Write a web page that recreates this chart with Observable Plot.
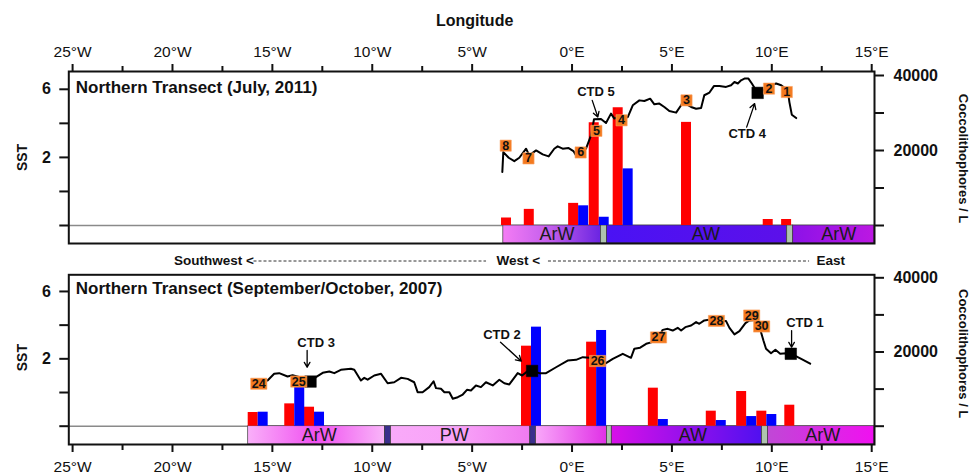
<!DOCTYPE html>
<html><head><meta charset="utf-8">
<script src="https://cdn.jsdelivr.net/npm/d3@7"></script>
<script src="https://cdn.jsdelivr.net/npm/@observablehq/plot@0.6"></script>
<style>
body{margin:0;background:#fff;}
#chart svg{display:block;}
</style></head>
<body><div id="chart"></div>
<script>
// ---------- shared axis values ----------
const lonTicks = [-25,-20,-15,-10,-5,0,5,10,15];
const lonMinorTicks = [-22.5,-17.5,-12.5,-7.5,-2.5,2.5,7.5,12.5];
const sstTicks = [-2,0,2,4,6];
const sstTickLabels = ["","","2","","6"];
const coccoTicks = [0,10000,20000,30000,40000];
const coccoTickLabels = ["","","20000","","40000"];
const directionLabels = ["Southwest <","West <","East"];

// ---------- July 2011 panel ----------
const julyTitle = "Northern Transect (July, 2011)";
const julyBarLon = [-3.03,-1.89,0.33,1.36,2.56,5.98,10.07,10.99];
const julyRed = [2000,4300,5900,27400,31400,27500,1600,1600];
const julyBlue = [null,null,5250,2200,15100,null,null,null];
const julySst = [[-3.49,1.14],[-3.44,2.31],[-3.17,1.98],[-2.89,1.78],[-2.64,1.98],[-2.30,2.51],[-2.14,2.12],[-1.80,2.41],[-1.47,2.18],[-1.17,2.06],[-0.89,2.51],[-0.72,2.65],[-0.47,2.51],[-0.17,2.55],[0.07,2.37],[0.20,2.12],[0.70,2.51],[0.95,3.29],[1.10,4.24],[1.45,4.26],[1.70,4.02],[1.95,4.57],[2.12,4.28],[2.29,4.37],[2.45,4.22],[2.79,4.37],[3.04,5.06],[3.37,5.35],[3.62,5.31],[3.91,5.45],[4.12,5.12],[4.37,5.16],[4.62,4.96],[4.87,4.72],[5.21,4.63],[5.46,5.06],[5.54,5.25],[5.96,4.96],[6.21,4.86],[6.46,4.90],[6.62,5.65],[6.88,5.81],[7.10,6.19],[7.38,6.19],[7.71,6.14],[7.96,6.24],[8.13,6.43],[8.30,6.34],[8.46,6.53],[8.63,6.63],[8.83,6.63],[9.00,6.34],[9.21,5.94],[9.56,5.94],[9.96,6.24],[10.22,6.34],[10.47,6.24],[10.80,5.94],[10.88,5.25],[11.00,4.51],[11.22,4.31]];
const julyStations = ["8","7","6","5","4","3","2","1"];
const julyStationLon = [-3.32,-2.18,0.43,1.22,2.48,5.73,9.86,10.75];
const julyStationSst = [2.69,1.94,2.29,3.56,4.18,5.35,6.04,5.84];
const julyCtdStationLon = [9.29];
const julyCtdStationSst = [5.79];
const julyCtdNames = ["CTD 5","CTD 4"];
const julyMassNames = ["ArW","","AW","","ArW"];
const julyMassStart = [-3.44,1.45,1.75,10.77,11.07];
const julyMassEnd = [1.45,1.75,10.77,11.07,15.14];

// ---------- Sep/Oct 2007 panel ----------
const septTitle = "Northern Transect (September/October, 2007)";
const septBarLon = [-15.71,-13.88,-12.89,-2.03,1.23,4.32,7.22,8.74,9.75,11.15];
const septRed = [3690,6020,5120,21570,22650,10250,4050,9350,4050,5660];
const septBlue = [3775,10500,3775,26700,25800,1800,1530,2600,3150,null];
const septSst = [[-15.24,0.71],[-14.91,1.11],[-14.66,1.15],[-14.24,0.95],[-13.99,1.03],[-13.57,0.89],[-13.07,0.65],[-12.82,0.91],[-12.48,1.17],[-12.15,1.25],[-11.90,1.15],[-11.57,1.35],[-11.07,1.41],[-10.90,1.35],[-10.57,0.71],[-10.40,0.87],[-10.23,0.76],[-9.90,1.01],[-9.56,1.11],[-9.23,0.55],[-8.90,0.61],[-8.56,0.87],[-8.23,0.81],[-7.90,0.61],[-7.73,0.02],[-7.48,0.02],[-7.15,0.32],[-6.93,0.67],[-6.81,0.26],[-6.56,0.22],[-6.39,0.02],[-6.14,0.02],[-5.97,-0.37],[-5.72,-0.28],[-5.47,-0.12],[-5.26,0.16],[-5.06,0.12],[-4.81,0.42],[-4.56,0.32],[-4.31,0.61],[-3.97,0.42],[-3.64,0.76],[-3.39,0.55],[-3.14,0.48],[-2.72,1.15],[-2.50,1.01],[-2.22,1.27],[-1.98,1.28],[-1.64,1.15],[-1.30,1.15],[-0.80,1.50],[-0.22,1.90],[0.20,1.94],[0.54,2.10],[0.87,2.06],[1.30,1.87],[1.70,1.74],[2.04,2.00],[2.54,2.30],[2.95,2.06],[3.12,2.60],[3.41,2.66],[3.71,2.89],[4.01,2.99],[4.33,3.27],[4.54,3.72],[4.79,3.78],[5.04,3.68],[5.29,3.84],[5.46,3.68],[5.67,3.88],[5.96,3.98],[6.21,4.18],[6.37,4.08],[6.62,4.28],[6.85,4.32],[7.25,4.25],[7.71,4.24],[7.88,3.84],[8.13,3.45],[8.38,3.64],[8.68,4.12],[8.88,4.28],[9.20,4.30],[9.46,3.58],[9.58,3.09],[9.71,2.60],[9.96,2.33],[10.18,2.54],[10.42,2.30],[10.72,2.33],[10.98,2.30],[11.47,2.00],[11.92,1.71]];
const septStations = ["24","25","26","27","28","29","30"];
const septStationLon = [-15.68,-13.68,1.28,4.33,7.23,8.99,9.49];
const septStationSst = [0.52,0.65,1.87,3.27,4.25,4.57,3.92];
const septCtdStationLon = [-13.09,-2.00,10.95];
const septCtdStationSst = [0.65,1.28,2.30];
const septCtdNames = ["CTD 3","CTD 2","CTD 1"];
const septMassNames = ["ArW","","PW","","","","AW","","ArW"];
const septMassStart = [-16.21,-9.36,-9.06,-2.09,-1.80,1.75,1.99,9.51,9.81];
const septMassEnd = [-9.36,-9.06,-2.09,-1.80,1.75,1.99,9.51,9.81,15.14];

// ---------- layout / style (not data) ----------
const FONT = "'Liberation Sans', Arial, Helvetica, sans-serif";
const K = 4540;                       // Coccolithophores/L per 1 °C on the shared vertical scale
const sstToY = s => (s + 2) * K;
const fmtLon = d => d < 0 ? `${-d}°W` : `${d}°E`;
const boxSymbol = aspect => ({draw(ctx, size) { const h = Math.sqrt(size / Math.PI); const w = h * aspect; ctx.rect(-w, -h, 2 * w, 2 * h); }});
const SEP_GRAY = "#aec3ae", SEP_DARK = "#3a2f8c";

const panels = [
  {
    id: "p1", title: julyTitle, titleDy: 16, height: 268, marginTop: 71, marginBottom: 25,
    yDomain: [-4800, 41067], axisAnchor: "top",
    barLon: julyBarLon, red: julyRed, blue: julyBlue, sst: julySst,
    stations: julyStations, stationLon: julyStationLon, stationSst: julyStationSst,
    ctdLon: julyCtdStationLon, ctdSst: julyCtdStationSst, squaresBehind: true,
    ctdNames: julyCtdNames,
    ctdTextPos: [[1.20, 5.86], [8.77, 3.39]],
    ctdArrowPos: [[1.01, 5.35, 1.29, 4.37], [8.74, 3.78, 9.14, 5.16]],
    massNames: julyMassNames, massStart: julyMassStart, massEnd: julyMassEnd,
    massLabelLon: [-0.75, 6.7, 13.35],
    massStyles: [["#f47cf4", "#c05cec", "#6a24e2"], SEP_GRAY, ["#4a12f4", "#5c10ea"], SEP_GRAY, ["#8c12e8", "#bc18e2"]],
    sstDy: 0, coccoDy: 1
  },
  {
    id: "p2", title: septTitle, titleDy: 14, height: 207, marginTop: 6.3, marginBottom: 31,
    yDomain: [-4933, 40809], axisAnchor: "bottom",
    barLon: septBarLon, red: septRed, blue: septBlue, sst: septSst,
    stations: septStations, stationLon: septStationLon, stationSst: septStationSst,
    ctdLon: septCtdStationLon, ctdSst: septCtdStationSst, squaresBehind: false,
    ctdNames: septCtdNames,
    ctdTextPos: [[-12.81, 2.95], [-3.51, 3.43], [11.66, 4.11]],
    ctdArrowPos: [[-13.26, 2.50, -13.26, 1.50], [-3.58, 2.99, -2.54, 1.86], [10.99, 3.68, 10.99, 2.69]],
    massNames: septMassNames, massStart: septMassStart, massEnd: septMassEnd,
    massLabelLon: [-12.65, -5.9, 6.05, 12.55],
    massStyles: [["#f9b0f9", "#f050f0", "#f9b6f9"], SEP_DARK, ["#f9aaf9", "#f8a2f8", "#f07af0"], SEP_DARK, ["#f9a8f9", "#e030e6"], SEP_GRAY, ["#d810e8", "#5010f0"], SEP_GRAY, ["#c048d6", "#f010f0"]],
    sstDy: -2, coccoDy: -6
  }
];

function buildPanel(p, isTop) {
  const defs = () => {
    const g = d3.create("svg:defs");
    p.massStyles.forEach((st, i) => {
      const stops = Array.isArray(st) ? st : [st, st];
      const lg = g.append("linearGradient").attr("id", `${p.id}-m${i}`)
        .attr("x1", 0).attr("x2", 1).attr("y1", 0).attr("y2", 0);
      stops.forEach((c, j) => lg.append("stop").attr("offset", j / (stops.length - 1)).attr("stop-color", c));
    });
    return g.node();
  };
  const masses = p.massStart.map((s, i) => ({start: s, end: p.massEnd[i], i}));
  const massLabels = p.massNames.filter(n => n).map((n, i) => ({name: n, lon: p.massLabelLon[i]}));
  const redBars = p.barLon.map((lon, i) => ({x1: lon - 0.5, x2: lon, v: p.red[i]})).filter(d => d.v != null);
  const blueBars = p.barLon.map((lon, i) => ({x1: lon, x2: lon + 0.5, v: p.blue[i]})).filter(d => d.v != null);
  const line = p.sst.map(([lon, s]) => ({lon, y: sstToY(s)}));
  const squares = p.ctdLon.map((lon, i) => ({lon, y: sstToY(p.ctdSst[i])}));
  const labels = p.stations.map((t, i) => ({t, lon: p.stationLon[i], y: sstToY(p.stationSst[i])}));
  const aspect = p.stations[0].length > 1 ? 1.45 : 1;
  const ctdTexts = p.ctdNames.map((t, i) => ({t, lon: p.ctdTextPos[i][0], y: sstToY(p.ctdTextPos[i][1])}));
  const ctdArrows = p.ctdArrowPos.map(a => ({x1: a[0], y1: sstToY(a[1]), x2: a[2], y2: sstToY(a[3])}));
  const sstMap = new Map(sstTicks.map((s, i) => [sstToY(s), sstTickLabels[i]]));
  const coccoMap = new Map(coccoTicks.map((c, i) => [c, coccoTickLabels[i]]));
  const squareMark = Plot.dot(squares, {x: "lon", y: "y", symbol: "square", r: 6.5, fill: "#000", stroke: "#000", strokeWidth: 0.5});

  const marks = [
    defs,
    Plot.ruleY([0], {stroke: "#8a8a8a", strokeWidth: 1.5}),
    ...masses.map(m => Plot.rect([m], {x1: "start", x2: "end", y1: 0, y2: p.yDomain[0], fill: `url(#${p.id}-m${m.i})`, stroke: "#3a3a3a", strokeWidth: 0.7})),
    Plot.text(massLabels, {x: "lon", y: p.yDomain[0] / 2, text: "name", fontSize: 18, fill: "#1a1a1a", lineAnchor: "middle"}),
    ...(p.squaresBehind ? [squareMark] : []),
    Plot.rect(redBars, {x1: "x1", x2: "x2", y1: 0, y2: "v", fill: "#ff0000"}),
    Plot.rect(blueBars, {x1: "x1", x2: "x2", y1: 0, y2: "v", fill: "#0000ff"}),
    Plot.line(line, {x: "lon", y: "y", stroke: "#000", strokeWidth: 2}),
    ...(p.squaresBehind ? [] : [squareMark]),
    Plot.dot(labels, {x: "lon", y: "y", symbol: boxSymbol(aspect), r: 5.6, fill: "#f47a1f", stroke: "#f9a468", strokeWidth: 0.6}),
    Plot.text(labels, {x: "lon", y: "y", text: "t", fontSize: 12.5, fontWeight: "bold", fill: "#111"}),
    Plot.arrow(ctdArrows, {x1: "x1", y1: "y1", x2: "x2", y2: "y2", stroke: "#000", strokeWidth: 1.3, headLength: 7}),
    Plot.text(ctdTexts, {x: "lon", y: "y", text: "t", fontSize: 13, fontWeight: "bold", fill: "#111"}),
    Plot.frame({stroke: "#111", strokeWidth: 2}),
    Plot.axisX({anchor: p.axisAnchor, ticks: lonTicks, tickFormat: fmtLon, tickSize: 8, tickPadding: p.axisAnchor === "top" ? 7 : 8, strokeWidth: 2, fontSize: 15.5, fill: "#111", label: null}),
    Plot.axisX({anchor: p.axisAnchor, ticks: lonMinorTicks, tickFormat: () => "", tickSize: 6, strokeWidth: 2, label: null}),
    Plot.axisY({anchor: "left", ticks: sstTicks.map(sstToY), tickFormat: d => sstMap.get(d) ?? "", tickSize: 9, tickPadding: 9, strokeWidth: 2, fontSize: 16, fontWeight: "bold", fill: "#111", label: null}),
    Plot.axisY({anchor: "right", ticks: coccoTicks, tickFormat: d => coccoMap.get(d) ?? "", tickSize: 9, tickPadding: 10, strokeWidth: 2, fontSize: 16, fontWeight: "bold", fill: "#111", label: null}),
    Plot.text([p.title], {frameAnchor: "top-left", dx: 7, dy: p.titleDy, lineAnchor: "middle", textAnchor: "start", fontSize: 17, fontWeight: "bold", fill: "#111"}),
    Plot.text(["SST"], {frameAnchor: "left", dx: -46, dy: p.sstDy, rotate: -90, textAnchor: "middle", lineAnchor: "middle", fontSize: 14, fontWeight: "bold", fill: "#111"}),
    Plot.text(["Coccolithophores / L"], {frameAnchor: "right", dx: 89, dy: p.coccoDy, rotate: 90, textAnchor: "middle", lineAnchor: "middle", fontSize: 13, fontWeight: "bold", fill: "#111"})
  ];

  if (isTop) {
    const rowY = -9467;
    marks.push(
      Plot.text(["Longitude"], {frameAnchor: "top", dx: 3, dy: -51, textAnchor: "middle", lineAnchor: "middle", fontSize: 16, fontWeight: "bold", fill: "#111"}),
      Plot.text([{t: directionLabels[0], lon: -15.92}], {x: "lon", y: rowY, text: "t", textAnchor: "end", fontSize: 13.5, fontWeight: "bold", fill: "#111"}),
      Plot.text([{t: directionLabels[1], lon: -3.78}], {x: "lon", y: rowY, text: "t", textAnchor: "start", fontSize: 13.5, fontWeight: "bold", fill: "#111"}),
      Plot.text([{t: directionLabels[2], lon: 12.24}], {x: "lon", y: rowY, text: "t", textAnchor: "start", fontSize: 13.5, fontWeight: "bold", fill: "#111"}),
      Plot.ruleY([{a: -15.92, b: -4.28}, {a: -1.18, b: 11.89}], {x1: "a", x2: "b", y: rowY, stroke: "#333", strokeWidth: 1, strokeDasharray: "3,2"})
    );
  }

  return Plot.plot({
    width: 970, height: p.height,
    marginLeft: 68.3, marginRight: 96, marginTop: p.marginTop, marginBottom: p.marginBottom,
    x: {domain: [-25.19, 15.14]},
    y: {domain: p.yDomain},
    style: {fontFamily: FONT, fontSize: "16px", color: "#111", background: "#fff", overflow: "visible"},
    marks
  });
}

const root = document.getElementById("chart");
panels.forEach((p, i) => root.appendChild(buildPanel(p, i === 0)));
</script>
</body></html>
